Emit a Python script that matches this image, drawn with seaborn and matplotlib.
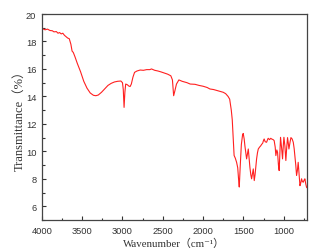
import matplotlib
matplotlib.use("Agg")
import matplotlib.pyplot as plt
import seaborn as sns
import pandas as pd
from matplotlib.ticker import MultipleLocator

wavenumber = [4000, 3960, 3930, 3900, 3870, 3850, 3820, 3800, 3780, 3760, 3740, 3720, 3700, 3680, 3660,
              3640, 3625, 3610, 3590, 3560, 3520, 3480, 3440, 3400, 3360, 3330, 3300, 3260, 3220, 3180,
              3140, 3100, 3060, 3020, 3000, 2990, 2980, 2970, 2960, 2940, 2920, 2905, 2890, 2870, 2850,
              2820, 2780, 2740, 2700, 2660, 2640, 2600, 2560, 2520, 2480, 2440, 2400, 2380, 2365, 2350,
              2330, 2300, 2260, 2200, 2160, 2100, 2050, 2000, 1950, 1915, 1870, 1820, 1780, 1750, 1720,
              1690, 1670, 1650, 1638, 1625, 1615, 1600, 1584, 1570, 1560, 1551, 1540, 1525, 1510, 1502,
              1490, 1481, 1470, 1460, 1450, 1439, 1430, 1419, 1408, 1398, 1387, 1377, 1370, 1365, 1355,
              1345, 1336, 1325, 1315, 1300, 1285, 1274, 1260, 1250, 1242, 1230, 1212, 1200, 1192, 1175,
              1160, 1150, 1130, 1118, 1105, 1097, 1085, 1076, 1065, 1056, 1047, 1039, 1025, 1014, 1005,
              997, 985, 973, 962, 952, 943, 935, 920, 910, 895, 881, 870, 861, 850, 840,
              830, 820, 810, 798, 788, 778, 768, 757, 747, 737, 725, 716, 700]
transmittance = [18.95, 18.85, 18.9, 18.8, 18.78, 18.7, 18.72, 18.6, 18.65, 18.55, 18.6, 18.45, 18.35, 18.25, 18.2,
                 17.8, 17.3, 17.2, 16.9, 16.4, 15.8, 15.1, 14.6, 14.25, 14.08, 14.05, 14.1, 14.3, 14.55, 14.8,
                 14.95, 15.05, 15.1, 15.12, 15.0, 14.5, 13.2, 14.3, 14.9, 14.85, 14.75, 14.72, 14.9, 15.4, 15.75,
                 15.85, 15.92, 15.9, 15.95, 15.95, 16.0, 15.9, 15.85, 15.78, 15.7, 15.62, 15.5, 15.2, 14.05, 14.4,
                 14.9, 15.2, 15.1, 15.0, 14.9, 14.88, 14.8, 14.74, 14.65, 14.54, 14.5, 14.42, 14.35, 14.3, 14.2,
                 14.0, 13.8, 13.0, 12.3, 10.8, 9.7, 9.5, 9.2, 8.8, 8.0, 7.4, 8.8, 10.5, 11.2, 11.3,
                 10.9, 10.4, 9.9, 9.45, 9.8, 10.17, 9.6, 8.84, 8.3, 8.0, 8.4, 8.72, 8.2, 7.87, 8.3,
                 8.9, 9.45, 9.9, 10.17, 10.3, 10.4, 10.5, 10.6, 10.8, 10.9, 10.7, 10.66, 10.85, 10.95, 10.85,
                 10.95, 10.9, 10.85, 10.78, 10.3, 9.69, 10.1, 9.93, 9.0, 8.6, 9.8, 11.02, 10.2, 9.45, 10.4,
                 11.02, 10.4, 9.33, 10.3, 11.0, 10.6, 10.17, 10.7, 11.0, 10.9, 10.66, 10.2, 9.69, 9.0, 8.24,
                 8.6, 9.2, 8.4, 7.5, 7.7, 8.0, 7.8, 7.75, 7.9, 8.0, 7.6, 7.38, 7.3]

x_ticks = [4000, 3500, 3000, 2500, 2000, 1500, 1000]
y_ticks = [6, 8, 10, 12, 14, 16, 18, 20]

sns.set_style("ticks")
df = pd.DataFrame({"w": wavenumber, "t": transmittance})

fig = plt.figure(figsize=(3.27, 2.53), dpi=100)
ax = fig.add_axes([0.128, 0.1265, 0.811, 0.8142])
sns.lineplot(data=df, x="w", y="t", ax=ax, color="#ff2020", linewidth=0.8, sort=False)

ax.set_xlim(4000, 710)
ax.set_ylim(5, 20)
ax.set_xticks(x_ticks)
ax.set_yticks(y_ticks)
ax.xaxis.set_minor_locator(MultipleLocator(250))
ax.yaxis.set_minor_locator(MultipleLocator(1))
ax.tick_params(which="both", direction="in", colors="#333333", width=0.8)
ax.tick_params(which="major", length=3, pad=4)
ax.tick_params(which="minor", length=1.8)
for lab in ax.get_xticklabels() + ax.get_yticklabels():
    lab.set_fontfamily(["Liberation Sans Narrow", "Liberation Sans"])
    lab.set_fontsize(6.7)
    lab.set_color("#333333")
for s in ax.spines.values():
    s.set_color("#444444")
    s.set_linewidth(0.9)

fam = ["Liberation Serif", "Noto Sans CJK SC", "DejaVu Sans"]
ax.set_xlabel("Wavenumber（cm⁻¹）", family=fam, fontsize=7.8, color="#333333", labelpad=2)
ax.set_ylabel("Transmittance（%）", family=fam, fontsize=9, color="#333333", labelpad=0.5)

fig.savefig("out.png", dpi=100)
